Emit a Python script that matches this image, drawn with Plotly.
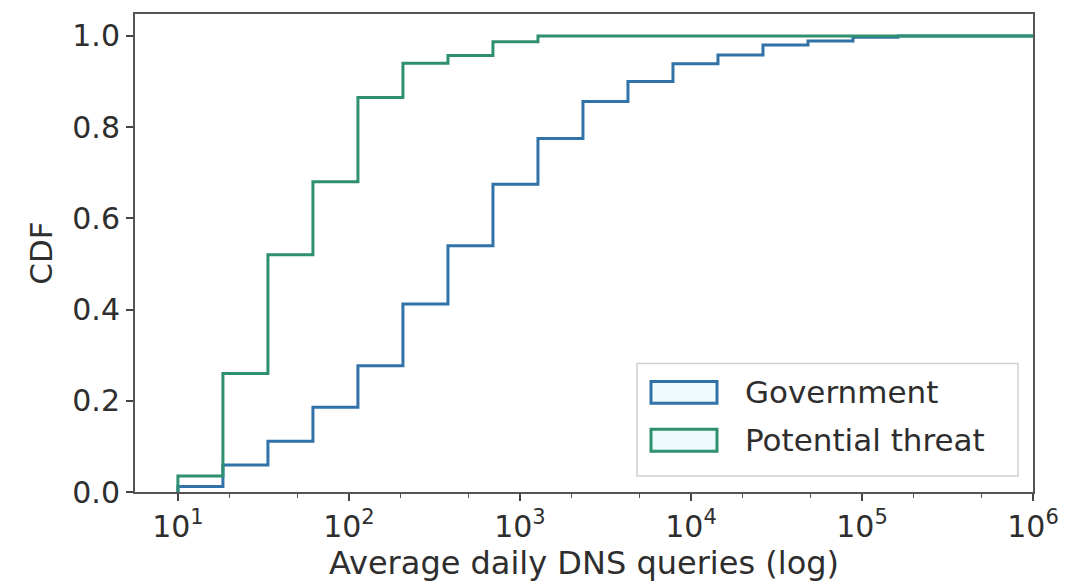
import numpy as np
import plotly.graph_objects as go

# ---- data ----
bin_edges = np.logspace(1, 6, 20)  # 19 log-spaced bins from 10^1 to 10^6
government_cdf = [0.012, 0.059, 0.111, 0.186, 0.277, 0.412, 0.540, 0.675, 0.775,
                  0.856, 0.900, 0.939, 0.958, 0.980, 0.989, 0.997, 1.0, 1.0, 1.0]
threat_cdf = [0.035, 0.260, 0.520, 0.680, 0.865, 0.940, 0.957, 0.987, 1.0,
              1.0, 1.0, 1.0, 1.0, 1.0, 1.0, 1.0, 1.0, 1.0, 1.0]
series_names = ["Government", "Potential threat"]
series_colors = ["#3172a8", "#2e9070"]
y_ticks = [0.0, 0.2, 0.4, 0.6, 0.8, 1.0]
x_tick_exps = [1, 2, 3, 4, 5, 6]

FONT = "DejaVu Sans"
TXT = "#2e2e2e"
W, H = 1069, 588
OFF = 8  # page body offset
# desired plot area in screen pixels
SX0, SX1, SY0, SY1 = 135, 1033, 12, 492
L = SX0 - OFF
T = SY0 - OFF
R = W - (SX1 - OFF)
B = H - (SY1 - OFF)


def step_xy(edges, vals):
    xs = [edges[0]] + list(edges[:-1]) + [edges[-1]]
    ys = [0.0] + list(vals) + [vals[-1]]
    return xs, ys


fig = go.Figure()
for name, vals, col in zip(series_names, [government_cdf, threat_cdf], series_colors):
    xs, ys = step_xy(bin_edges, vals)
    fig.add_trace(go.Scatter(x=xs, y=ys, mode="lines", name=name,
                             line=dict(color=col, width=3, shape="hv"),
                             showlegend=False, hoverinfo="skip"))

axis_line = dict(showline=True, linecolor="#555555", linewidth=2, mirror=True)
fig.update_xaxes(type="log", range=[0.749, 6.0], showgrid=False, zeroline=False,
                 tickvals=[10 ** e for e in x_tick_exps],
                 ticktext=["10<sup>%d</sup>" % e for e in x_tick_exps],
                 ticks="outside", ticklen=7, tickwidth=1.5, tickcolor="#444",
                 minor=dict(ticks="outside", ticklen=4, tickwidth=1, tickcolor="#555", showgrid=False),
                 tickfont=dict(family=FONT, size=30, color=TXT),
                 title=dict(text="Average daily DNS queries (log)",
                            font=dict(family=FONT, size=32, color=TXT), standoff=4),
                 **axis_line)
fig.update_yaxes(range=[0, 1.048], showgrid=False, zeroline=False,
                 tickvals=y_ticks, ticktext=["%.1f" % v for v in y_ticks],
                 ticks="outside", ticklen=7, tickwidth=1.5, tickcolor="#444",
                 tickfont=dict(family=FONT, size=30, color=TXT),
                 title=dict(text="CDF", font=dict(family=FONT, size=31, color=TXT), standoff=10),
                 **axis_line)

# ---- legend drawn manually (matplotlib-like patch legend), screen coords ----
pw = SX1 - SX0
ph = SY1 - SY0
def px(x):
    return (x - SX0) / pw
def py(y):
    return (SY1 - y) / ph

shapes = [dict(type="rect", xref="paper", yref="paper",
               x0=px(637), x1=px(1018), y0=py(476), y1=py(363),
               line=dict(color="#d0d0d0", width=1.5), fillcolor="rgba(255,255,255,0.85)")]
annotations = []
for i, (name, col) in enumerate(zip(series_names, series_colors)):
    cy = 392 + i * 48
    shapes.append(dict(type="rect", xref="paper", yref="paper",
                       x0=px(651), x1=px(717), y0=py(cy + 11), y1=py(cy - 11),
                       line=dict(color=col, width=3), fillcolor="#eefafc"))
    annotations.append(dict(xref="paper", yref="paper", x=px(743), y=py(cy),
                            xanchor="left", yanchor="middle", showarrow=False,
                            text=name, font=dict(family=FONT, size=31, color=TXT)))

fig.update_layout(width=W, height=H, margin=dict(l=L, r=R, t=T, b=B),
                  paper_bgcolor="white", plot_bgcolor="white",
                  shapes=shapes, annotations=annotations, showlegend=False)

fig.write_html("out.html")
